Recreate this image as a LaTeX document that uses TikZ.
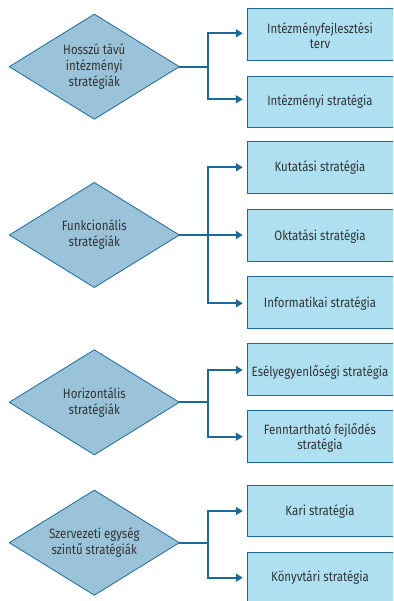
\documentclass[tikz,border=0pt]{standalone}
\usepackage{fontspec}
\setmainfont{Fira Sans}[FakeStretch=0.85]
\usetikzlibrary{arrows.meta}
\definecolor{linkblue}{HTML}{1B6A98}
\definecolor{diamfill}{HTML}{9AC3DA}
\definecolor{boxfill}{HTML}{AEE0F1}
\definecolor{textgray}{HTML}{333333}
\tikzset{
  levelnode/.style={minimum width=170pt, minimum height=105pt, inner sep=0pt,
    outer sep=0pt, text=textgray, align=center,
    font=\fontsize{13.5}{16}\selectfont},
  diamondline/.style={draw=linkblue, fill=diamfill, line width=0.8pt},
  stratbox/.style={draw=linkblue, fill=boxfill, line width=0.8pt, anchor=west,
    minimum width=150pt, minimum height=51.5pt, inner sep=0pt},
  boxlabel/.style={text=textgray, align=center,
    font=\fontsize{13.5}{15.5}\selectfont},
  link/.style={draw=linkblue, line width=2pt,
    -{Triangle[length=7pt,width=8pt]}},
  trunk/.style={draw=linkblue, line width=2pt},
}
\newcommand{\drawdiamond}[1]{%
  \path[diamondline] (#1.west) -- (#1.north) -- (#1.east) -- (#1.south) -- cycle;}
\begin{document}
\begin{tikzpicture}[x=1pt,y=-1pt]
\useasboundingbox (0,0) rectangle (393,601);
\begin{scope}
\clip (0,0) rectangle (393,601);

% level shapes: invisible frames, diamonds drawn around them
\path
  (94.3,66.7)  node[levelnode] (d1) {}
  (94.3,235)   node[levelnode] (d2) {}
  (94.3,402.3) node[levelnode] (d3) {}
  (94.3,542.7) node[levelnode] (d4) {};
\drawdiamond{d1}
\drawdiamond{d2}
\drawdiamond{d3}
\drawdiamond{d4}
\node[levelnode] (l1) at (d1) {Hosszú távú\\intézményi\\stratégiák};
\node[levelnode] (l2) at (d2) {Funkcionális\\stratégiák};
\node[levelnode] (l3) at (d3) {Horizontális\\stratégiák};
\node[levelnode] (l4) at (d4) {Szervezeti egység\\szintű stratégiák};

% strategy boxes (right edge runs past the page)
\node[stratbox] (b1) at (247.3,34.2) {};
\node[stratbox] (b2) at (247.3,101.8) {};
\node[stratbox] (b3) at (247.3,167.5) {};
\node[stratbox] (b4) at (247.3,235.2) {};
\node[stratbox] (b5) at (247.3,302.5) {};
\node[stratbox] (b6) at (247.3,369.5) {};
\node[stratbox] (b7) at (247.3,436.5) {};
\node[stratbox] (b8) at (247.3,511) {};
\node[stratbox] (b9) at (247.3,578) {};

% box labels
\node[boxlabel] (t1) at (320,35.5) {Intézményfejlesztési\\terv};
\node[boxlabel] (t2) at (320,101.5) {Intézményi stratégia};
\node[boxlabel] (t3) at (320,168) {Kutatási stratégia};
\node[boxlabel] (t4) at (320,236.5) {Oktatási stratégia};
\node[boxlabel] (t5) at (320,303.5) {Informatikai stratégia};
\node[boxlabel] (t6) at (320,372) {Esélyegyenlőségi stratégia};
\node[boxlabel] (t7) at (320,438) {Fenntartható fejlődés\\stratégia};
\node[boxlabel] (t8) at (320,512) {Kari stratégia};
\node[boxlabel] (t9) at (320,578) {Könyvtári stratégia};
\end{scope}

% branching points
\coordinate (j1) at (207.5,66.7);
\coordinate (j2) at (207.5,235);
\coordinate (j3) at (207.5,402.3);
\coordinate (j4) at (207.5,542.7);

% connectors
\draw[trunk] (d1.east) -- (j1);
\draw[link] (j1) |- ([xshift=-4.5pt]b1.west |- 0,33.3);
\draw[link] (j1) |- ([xshift=-4.5pt]b2.west |- 0,99.3);

\draw[trunk] (d2.east) -- (j2);
\draw[link] (j2) |- ([xshift=-4.5pt]b3.west |- 0,167.3);
\draw[link] (d2.east) -- ([xshift=-4.5pt]b4.west |- 0,235);
\draw[link] (j2) |- ([xshift=-4.5pt]b5.west |- 0,303.3);

\draw[trunk] (d3.east) -- (j3);
\draw[link] (j3) |- ([xshift=-4.5pt]b6.west |- 0,370);
\draw[link] (j3) |- ([xshift=-4.5pt]b7.west |- 0,436.7);

\draw[trunk] (d4.east) -- (j4);
\draw[link] (j4) |- ([xshift=-4.5pt]b8.west |- 0,511);
\draw[link] (j4) |- ([xshift=-4.5pt]b9.west |- 0,577.7);
\end{tikzpicture}
\end{document}
